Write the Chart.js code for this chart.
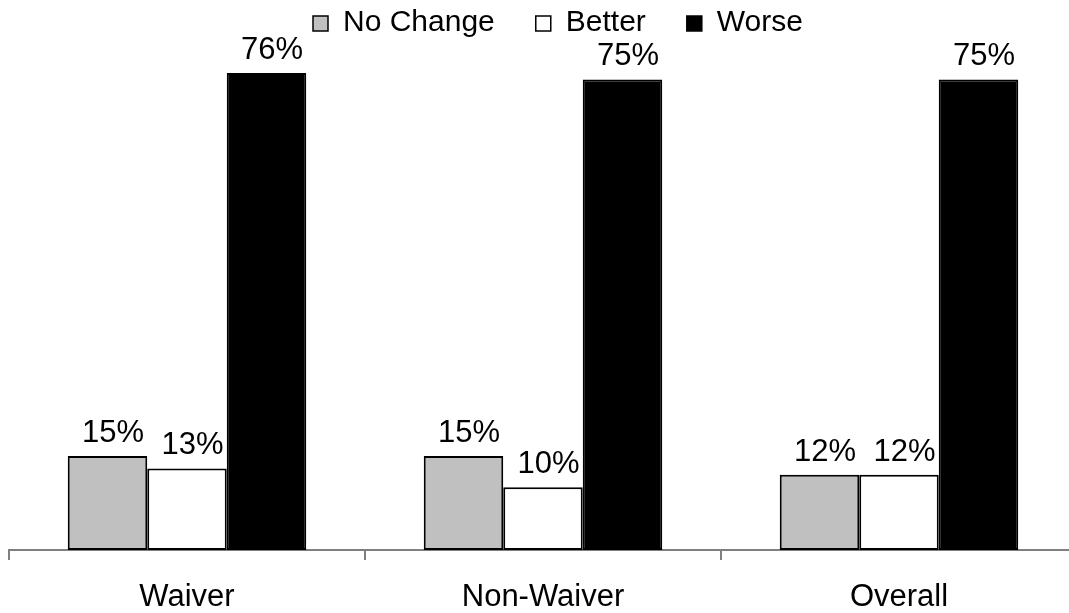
<!DOCTYPE html>
<html>
<head>
<meta charset="utf-8">
<script src="https://cdn.jsdelivr.net/npm/chart.js@4/dist/chart.umd.min.js"></script>
<style>
  html, body { margin: 0; padding: 0; background: #fff; overflow: hidden; }
  #wrap { position: relative; width: 1077px; height: 613px; }
</style>
</head>
<body>
<div id="wrap"><canvas id="chart"></canvas></div>
<script>
// Share of respondents by outcome, per group (percent)
const categories = ['Waiver', 'Non-Waiver', 'Overall'];
const noChange = [15, 15, 12];
const better   = [13, 10, 12];
const worse    = [76, 75, 75];
const seriesNames = ['No Change', 'Better', 'Worse'];

const FONT = '"Liberation Sans", Arial, Helvetica, sans-serif';

// Percentage labels above each bar
const valueLabels = {
  id: 'valueLabels',
  afterDatasetsDraw(chart) {
    const ctx = chart.ctx;
    ctx.save();
    ctx.font = '31px ' + FONT;
    ctx.fillStyle = '#000';
    ctx.textAlign = 'center';
    ctx.textBaseline = 'alphabetic';
    chart.data.datasets.forEach((ds, i) => {
      chart.getDatasetMeta(i).data.forEach((bar, j) => {
        ctx.fillText(ds.data[j] + '%', bar.x + 5.5, bar.y - 14);
      });
    });
    ctx.restore();
  }
};

// Horizontal legend row with square swatches
const squareLegend = {
  id: 'squareLegend',
  afterDraw(chart) {
    const ctx = chart.ctx;
    const box = 15, gap = 15, spacing = 41, centerX = 558, baseY = 31;
    ctx.save();
    ctx.font = '30px ' + FONT;
    const items = chart.data.datasets.map(ds => ({
      label: ds.label, fill: ds.backgroundColor, w: ctx.measureText(ds.label).width
    }));
    const total = items.reduce((s, it) => s + box + gap + it.w, 0) + spacing * (items.length - 1);
    let x = Math.round(centerX - total / 2);
    items.forEach(it => {
      ctx.fillStyle = it.fill;
      ctx.fillRect(x, baseY - box, box, box);
      ctx.strokeStyle = '#000';
      ctx.lineWidth = 1.5;
      ctx.strokeRect(x, baseY - box, box, box);
      ctx.fillStyle = '#000';
      ctx.textBaseline = 'alphabetic';
      ctx.textAlign = 'left';
      ctx.fillText(it.label, x + box + gap, baseY);
      x += box + gap + it.w + spacing;
    });
    ctx.restore();
  }
};

new Chart(document.getElementById('chart'), {
  type: 'bar',
  data: {
    labels: categories,
    datasets: [
      { label: seriesNames[0], data: noChange, backgroundColor: '#C0C0C0', borderColor: '#000', borderWidth: 2, borderSkipped: false },
      { label: seriesNames[1], data: better,   backgroundColor: '#FFFFFF', borderColor: '#000', borderWidth: 2, borderSkipped: false },
      { label: seriesNames[2], data: worse,    backgroundColor: '#000000', borderColor: '#000', borderWidth: 2, borderSkipped: false }
    ]
  },
  options: {
    responsive: true,
    maintainAspectRatio: false,
    animation: false,
    layout: { padding: { top: 48, left: 9, right: 0, bottom: 0 } },
    datasets: { bar: { categoryPercentage: 0.67, barPercentage: 1.0 } },
    plugins: { legend: { display: false }, tooltip: { enabled: false } },
    scales: {
      x: {
        offset: true,
        afterFit(scale) { scale.height = 63; },
        grid: { display: true, offset: true, drawOnChartArea: false, drawTicks: true, tickLength: 10, color: '#808080', lineWidth: 2 },
        border: { display: true, color: '#808080', width: 2 },
        ticks: { color: '#000', font: { family: FONT, size: 31 }, padding: 19, maxRotation: 0 }
      },
      y: {
        display: false,
        min: 0,
        max: 80
      }
    }
  },
  plugins: [valueLabels, squareLegend]
});
</script>
</body>
</html>
